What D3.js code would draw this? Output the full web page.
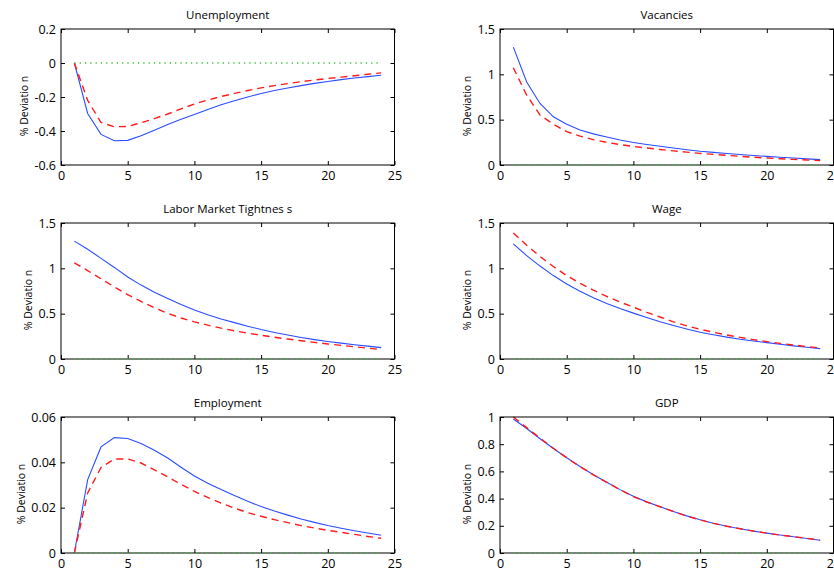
<!DOCTYPE html>
<html>
<head>
<meta charset="utf-8">
<script src="https://cdn.jsdelivr.net/npm/d3@7"></script>
<style>
  body { margin: 0; background: #fff; }
  svg { display: block; }
  text { font-family: "Open Sans", sans-serif; fill: #000; }
</style>
</head>
<body>
<svg width="834" height="571"></svg>
<script>
// impulse responses, periods 1..24
var periods = [1, 2, 3, 4, 5, 6, 7, 8, 9, 10, 11, 12, 13, 14, 15, 16, 17, 18, 19, 20, 21, 22, 23, 24];

var unempSolid = [0, -0.297, -0.42, -0.457, -0.455, -0.428, -0.395, -0.362, -0.331, -0.303, -0.273, -0.246,
  -0.222, -0.2, -0.179, -0.162, -0.147, -0.133, -0.12, -0.109, -0.098, -0.088, -0.08, -0.072];
var unempDashed = [0, -0.22, -0.35, -0.375, -0.373, -0.352, -0.327, -0.3, -0.27, -0.241, -0.218, -0.197,
  -0.179, -0.162, -0.146, -0.133, -0.121, -0.11, -0.1, -0.091, -0.083, -0.075, -0.066, -0.058];

var vacSolid = [1.3, 0.916, 0.679, 0.532, 0.449, 0.387, 0.343, 0.308, 0.276, 0.248, 0.226, 0.206,
  0.187, 0.169, 0.152, 0.139, 0.127, 0.116, 0.105, 0.095, 0.086, 0.077, 0.068, 0.059];
var vacDashed = [1.073, 0.77, 0.551, 0.449, 0.368, 0.318, 0.28, 0.25, 0.225, 0.205, 0.187, 0.171,
  0.156, 0.142, 0.128, 0.117, 0.106, 0.096, 0.086, 0.077, 0.069, 0.062, 0.055, 0.048];

var tightSolid = [1.3, 1.21, 1.11, 1.01, 0.905, 0.815, 0.737, 0.668, 0.602, 0.54, 0.487, 0.442,
  0.401, 0.362, 0.325, 0.293, 0.264, 0.238, 0.214, 0.193, 0.175, 0.158, 0.142, 0.125];
var tightDashed = [1.06, 0.975, 0.885, 0.795, 0.71, 0.635, 0.565, 0.503, 0.452, 0.41, 0.373, 0.34,
  0.311, 0.285, 0.262, 0.24, 0.22, 0.201, 0.183, 0.166, 0.15, 0.135, 0.119, 0.104];

var wageSolid = [1.269, 1.14, 1.025, 0.92, 0.827, 0.748, 0.676, 0.612, 0.556, 0.506, 0.457, 0.411,
  0.37, 0.331, 0.295, 0.267, 0.241, 0.218, 0.199, 0.181, 0.162, 0.145, 0.129, 0.114];
var wageDashed = [1.39, 1.255, 1.13, 1.02, 0.919, 0.835, 0.76, 0.69, 0.628, 0.572, 0.515, 0.463,
  0.41, 0.366, 0.328, 0.295, 0.265, 0.238, 0.214, 0.192, 0.172, 0.154, 0.137, 0.122];

var emplSolid = [0, 0.0324, 0.0468, 0.0509, 0.0505, 0.0483, 0.0453, 0.0419, 0.0378, 0.034, 0.0308, 0.028,
  0.0254, 0.0228, 0.0205, 0.0185, 0.0167, 0.015, 0.0135, 0.0121, 0.0109, 0.0098, 0.0088, 0.0078];
var emplDashed = [0, 0.0265, 0.0377, 0.0415, 0.0415, 0.0397, 0.0367, 0.0336, 0.0303, 0.0272, 0.0245, 0.022,
  0.0198, 0.0178, 0.0162, 0.0147, 0.0134, 0.0121, 0.011, 0.01, 0.0091, 0.0082, 0.0073, 0.0065];

var gdpSolid = [0.985, 0.915, 0.84, 0.768, 0.7, 0.636, 0.576, 0.52, 0.466, 0.417, 0.376, 0.34,
  0.305, 0.273, 0.244, 0.219, 0.197, 0.178, 0.161, 0.146, 0.132, 0.119, 0.107, 0.094];
var gdpDashed = [1.0, 0.922, 0.845, 0.77, 0.7, 0.635, 0.575, 0.52, 0.465, 0.415, 0.375, 0.34,
  0.305, 0.272, 0.243, 0.218, 0.197, 0.178, 0.161, 0.146, 0.132, 0.12, 0.108, 0.095];

var xTicks = [0, 5, 10, 15, 20, 25];
var titles = ['Unemployment', 'Vacancies', 'Labor Market Tightnes s', 'Wage', 'Employment', 'GDP'];
var yTickSets = [
  [-0.6, -0.4, -0.2, 0, 0.2],
  [0, 0.5, 1, 1.5],
  [0, 0.5, 1, 1.5],
  [0, 0.5, 1, 1.5],
  [0, 0.02, 0.04, 0.06],
  [0, 0.2, 0.4, 0.6, 0.8, 1]
];
var solidSeries = [unempSolid, vacSolid, tightSolid, wageSolid, emplSolid, gdpSolid];
var dashedSeries = [unempDashed, vacDashed, tightDashed, wageDashed, emplDashed, gdpDashed];
var yLabel = '% Deviatio n';

var svg = d3.select('svg');
var colLeft = [61, 500];
var rowTop = [29, 223, 417];
var plotW = 333.5;
var plotH = 136;

titles.forEach(function(title, i) {
  var col = i % 2, row = Math.floor(i / 2);
  var yTicks = yTickSets[i];
  var g = svg.append('g')
    .attr('transform', 'translate(' + [colLeft[col], rowTop[row]] + ')');

  var x = d3.scaleLinear().domain([0, 25]).range([0, plotW]);
  var y = d3.scaleLinear().domain(d3.extent(yTicks)).range([plotH, 0]);

  var line = d3.line()
    .x(function(d, k) { return x(periods[k]); })
    .y(function(d) { return y(d); });

  g.append('path')
    .datum(solidSeries[i])
    .attr('d', line)
    .attr('fill', 'none')
    .attr('stroke', '#2b4cff')
    .attr('stroke-width', 1.1);

  g.append('path')
    .datum(dashedSeries[i])
    .attr('d', line)
    .attr('fill', 'none')
    .attr('stroke', '#ff1a1a')
    .attr('stroke-width', 1.4)
    .attr('stroke-dasharray', '7,5');

  // axes with inward ticks on all four sides
  g.append('g').attr('transform', 'translate(0,' + plotH + ')')
    .call(d3.axisBottom(x).tickValues(xTicks).tickSize(-4).tickSizeOuter(0).tickPadding(6));
  g.append('g')
    .call(d3.axisTop(x).tickValues(xTicks).tickSize(-4).tickSizeOuter(0).tickFormat(''));
  var left = g.append('g')
    .call(d3.axisLeft(y).tickValues(yTicks).tickSize(-4).tickSizeOuter(0).tickPadding(5)
      .tickFormat(function(d) { return String(+d.toFixed(4)); }));
  g.append('g').attr('transform', 'translate(' + plotW + ',0)')
    .call(d3.axisRight(y).tickValues(yTicks).tickSize(-4).tickSizeOuter(0).tickFormat(''));

  g.selectAll('.domain').remove();
  g.selectAll('.tick text').attr('font-size', 12.5).attr('font-family', '"Open Sans", sans-serif');

  g.append('rect')
    .attr('width', plotW)
    .attr('height', plotH)
    .attr('fill', 'none')
    .attr('stroke', '#000')
    .attr('stroke-width', 1);

  // zero reference
  g.append('line')
    .attr('x1', x(periods[0]))
    .attr('x2', x(periods[periods.length - 1]))
    .attr('y1', y(0))
    .attr('y2', y(0))
    .attr('stroke', '#3fbf3f')
    .attr('stroke-width', 1.3)
    .attr('stroke-dasharray', '1.3,4');

  g.append('text')
    .text(title)
    .attr('x', plotW / 2)
    .attr('y', -10.5)
    .attr('text-anchor', 'middle')
    .attr('font-size', 11.5);

  var bb = left.node().getBBox();
  g.append('text')
    .text(yLabel)
    .attr('transform', 'translate(' + [bb.x - 6, plotH / 2 + 9] + ') rotate(-90)')
    .attr('text-anchor', 'middle')
    .attr('font-size', 10.5);
});
</script>
</body>
</html>
